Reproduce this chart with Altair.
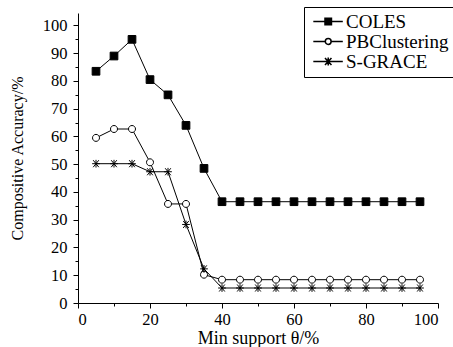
import altair as alt
import pandas as pd

# Minimum support thresholds (%)
support = [5, 10, 15, 20, 25, 30, 35, 40, 45, 50, 55, 60, 65, 70, 75, 80, 85, 90, 95]

# Compositive accuracy (%) per method
coles = [83.5, 89, 95, 80.5, 75, 64, 48.5] + [36.5] * 12
pbclustering = [59.5, 62.7, 62.7, 50.7, 35.7, 35.7, 10.2] + [8.4] * 12
sgrace = [50.2, 50.2, 50.2, 47.3, 47.3, 28.3, 12.3] + [5.4] * 12

methods = ["COLES", "PBClustering", "S-GRACE"]

rows = []
for name, values in zip(methods, [coles, pbclustering, sgrace]):
    for s, v in zip(support, values):
        rows.append({"support": s, "accuracy": v, "method": name})
df = pd.DataFrame(rows)

# Marker glyphs for the plotted points
marker_paths = [
    "M-1.1,-1.1H1.1V1.1H-1.1Z",
    "M-1,0A1,1 0 1,1 1,0A1,1 0 1,1 -1,0Z",
    "M-1.1,0H1.1M-0.8,-1L0.8,1M-0.8,1L0.8,-1M0,-1.1V1.1",
]
# Legend glyphs: a short line segment with the marker in its middle
legend_paths = [
    "M-1.6,0H7.5M2,-1H4V1H2Z",
    "M-1.6,0H2.1M3.9,0H7.5M2.1,0A0.9,0.9 0 1,1 3.9,0A0.9,0.9 0 1,1 2.1,0Z",
    "M-1.6,0H7.5M2,-1.1L4,1.1M2,1.1L4,-1.1M3,-1.2V1.2",
]
fills = ["black", "white", "black"]

legend_opts = dict(
    title=None,
    orient="none",
    legendX=226,
    legendY=-6,
    symbolSize=42,
    labelOffset=18,
    labelFontSize=19,
    rowPadding=0,
    padding=5,
    strokeColor="black",
)

x_enc = alt.X(
    "support:Q",
    scale=alt.Scale(domain=[0, 100], nice=False),
    axis=alt.Axis(
        values=list(range(0, 101, 10)),
        labelExpr="datum.value % 20 === 0 ? datum.label : ''",
        tickSize={"condition": {"test": "datum.value % 20 === 0", "value": 5}, "value": 3},
        title="Min support θ/%",
        titleFontSize=18,
        titlePadding=2,
        labelPadding=3,
    ),
)
y_enc = alt.Y(
    "accuracy:Q",
    scale=alt.Scale(domain=[0, 104.5], nice=False),
    axis=alt.Axis(
        values=list(range(0, 101, 5)),
        labelExpr="datum.value % 10 === 0 ? datum.label : ''",
        tickSize={"condition": {"test": "datum.value % 10 === 0", "value": 5}, "value": 3},
        title="Compositive Accuracy/%",
        titleFontSize=16,
        titlePadding=17,
        labelPadding=6,
    ),
)

lines = alt.Chart(df).mark_line(color="black", strokeWidth=1).encode(
    x=x_enc, y=y_enc, detail="method:N"
)

points = alt.Chart(df).mark_point(
    filled=True, stroke="black", strokeWidth=1, opacity=1, size=49
).encode(
    x=x_enc,
    y=y_enc,
    shape=alt.Shape("method:N", scale=alt.Scale(domain=methods, range=marker_paths), legend=None),
    fill=alt.Fill("method:N", scale=alt.Scale(domain=methods, range=fills), legend=None),
)

legend_layer = alt.Chart(df).transform_filter("false").mark_point(
    filled=True, stroke="black", strokeWidth=1, opacity=1, size=42
).encode(
    x=x_enc,
    y=y_enc,
    shape=alt.Shape(
        "method:N",
        scale=alt.Scale(domain=methods, range=legend_paths),
        legend=alt.Legend(**legend_opts),
    ),
    fill=alt.Fill(
        "method:N",
        scale=alt.Scale(domain=methods, range=fills),
        legend=alt.Legend(**legend_opts),
    ),
)

chart = (
    alt.layer(lines, points, legend_layer)
    .resolve_scale(shape="independent", fill="independent")
    .properties(
        width=360,
        height=290,
        autosize="none",
        padding={"left": 78, "top": 13, "right": 15, "bottom": 44},
    )
    .configure(font="Liberation Serif")
    .configure_view(stroke=None)
    .configure_axis(
        grid=False,
        domainColor="black",
        tickColor="black",
        labelColor="black",
        titleColor="black",
        labelFontSize=16.5,
        titleFontWeight="normal",
        labelFont="Liberation Serif",
        titleFont="Liberation Serif",
    )
    .configure_legend(labelColor="black", labelFont="Liberation Serif")
)

chart.save("out.html", embed_options={"renderer": "svg", "actions": False})
